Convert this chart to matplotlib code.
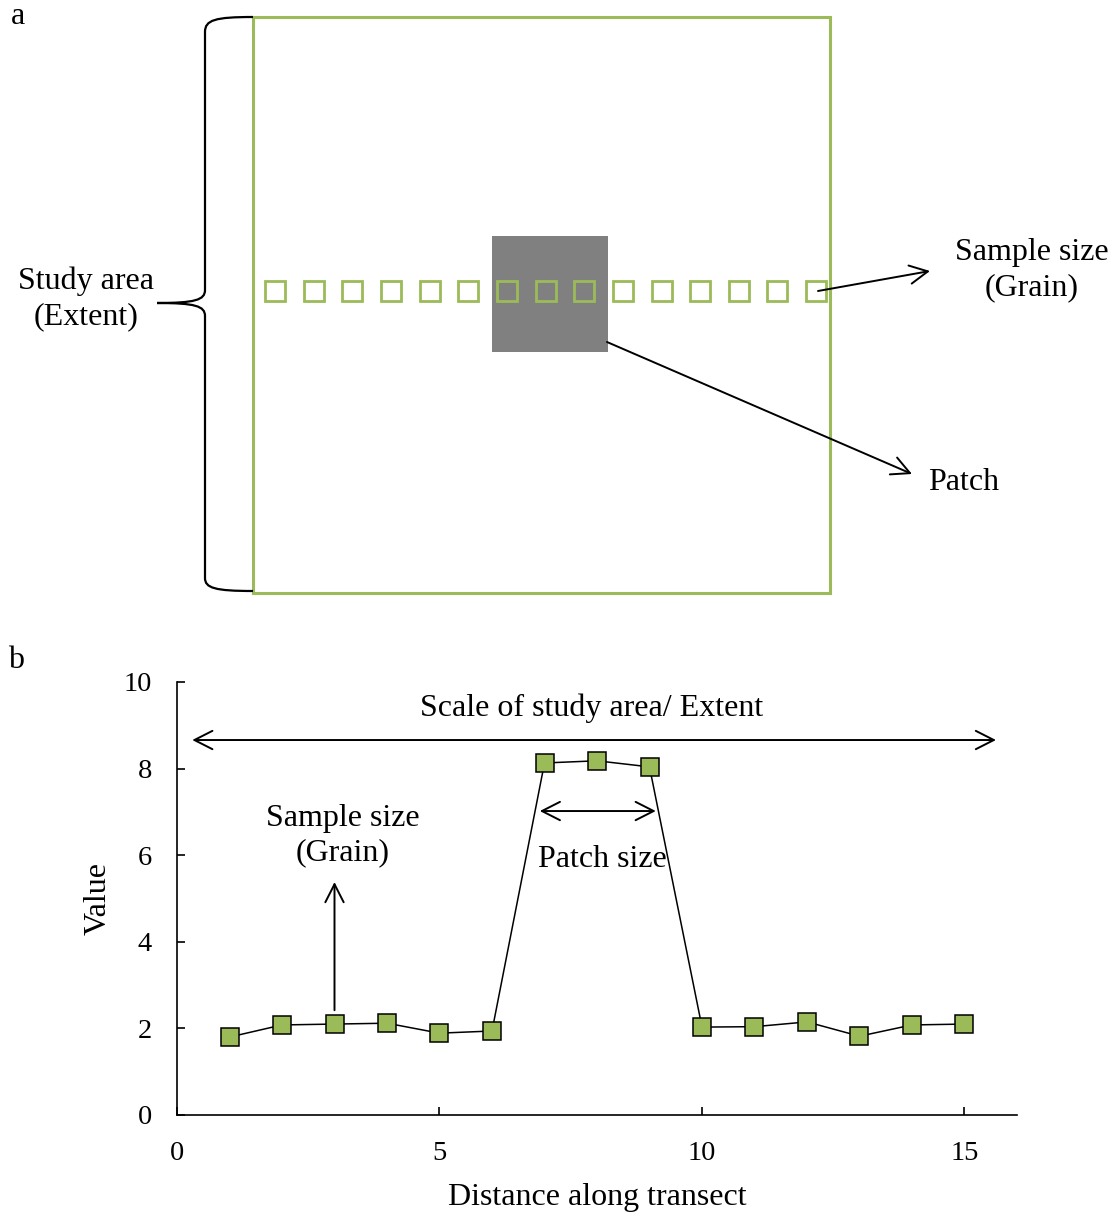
import matplotlib
matplotlib.use("Agg")
import matplotlib.pyplot as plt
from matplotlib.patches import Rectangle, FancyArrowPatch, PathPatch
from matplotlib.path import Path
import numpy as np

plt.rcParams['font.family'] = ['Liberation Serif', 'DejaVu Serif']

# ---- data ----
distance = [1, 2, 3, 4, 5, 6, 7, 8, 9, 10, 11, 12, 13, 14, 15]
values = [1.80, 2.08, 2.10, 2.12, 1.89, 1.94, 8.13, 8.18, 8.04, 2.03, 2.04, 2.15, 1.82, 2.08, 2.10]
patch_samples = [7, 8, 9]
x_ticks = [0, 5, 10, 15]
y_ticks = [0, 2, 4, 6, 8, 10]

GREEN = '#9BBB59'
FS = 23
W, H = 1117, 1213
fig = plt.figure(figsize=(W / 100, H / 100), dpi=100)

# ---------- panel a (pixel-coordinate overlay) ----------
ov = fig.add_axes([0, 0, 1, 1])
ov.set_xlim(0, W)
ov.set_ylim(H, 0)
ov.axis('off')

ov.add_patch(Rectangle((253, 17), 577, 576, fill=False, ec=GREEN, lw=2.2, zorder=2))
first_x, step, sq = 275, 38.65, 20
px0 = first_x + (patch_samples[0] - 1) * step - 15
px1 = first_x + (patch_samples[-1] - 1) * step + 24
ov.add_patch(Rectangle((px0, 236), px1 - px0, 116, fc='#808080', ec='none', zorder=1))
for i in range(len(distance)):
    cx = first_x + i * step
    ov.add_patch(Rectangle((cx - sq / 2, 291 - sq / 2), sq, sq, fill=False,
                           ec=GREEN, lw=2.0, zorder=3))

verts = [(253, 17), (215, 17), (205, 20), (205, 32),
         (205, 290),
         (205, 300), (195, 303), (157, 303),
         (195, 303), (205, 306), (205, 316),
         (205, 578),
         (205, 588), (215, 591), (253, 591)]
codes = [Path.MOVETO, Path.CURVE4, Path.CURVE4, Path.CURVE4,
         Path.LINETO,
         Path.CURVE4, Path.CURVE4, Path.CURVE4,
         Path.CURVE4, Path.CURVE4, Path.CURVE4,
         Path.LINETO,
         Path.CURVE4, Path.CURVE4, Path.CURVE4]
ov.add_patch(PathPatch(Path(verts, codes), fill=False, ec='black', lw=1.6, zorder=3))

ov.text(86, 299, 'Study area\n(Extent)', ha='center', va='center', fontsize=FS,
        linespacing=1.25)

arr_kw = dict(arrowstyle='->,head_length=0.65,head_width=0.33', mutation_scale=20,
              color='black', lw=1.4, shrinkA=0, shrinkB=0, zorder=4)
ov.add_patch(FancyArrowPatch((818, 291), (930, 271), **arr_kw))
ov.add_patch(FancyArrowPatch((607, 342), (912, 474), **arr_kw))
ov.text(1032, 270, 'Sample size\n(Grain)', ha='center', va='center', fontsize=FS,
        linespacing=1.25)
ov.text(928, 482, 'Patch', ha='left', va='center', fontsize=FS)

ov.text(11, 17, 'a', ha='left', va='center', fontsize=FS)
ov.text(8, 660, 'b', ha='left', va='center', fontsize=FS)

# ---------- panel b ----------
ax = fig.add_axes([177 / W, 1 - 1115 / H, (1017 - 177) / W, (1115 - 682) / H])
ax.set_xlim(0, 16)
ax.set_ylim(0, 10)
ax.plot(distance, values, color='black', lw=1.1, marker='s', markersize=13.5,
        markerfacecolor=GREEN, markeredgecolor='black', markeredgewidth=1.1,
        clip_on=False, zorder=3)
for s in ['top', 'right']:
    ax.spines[s].set_visible(False)
for s in ['left', 'bottom']:
    ax.spines[s].set_linewidth(1.2)
ax.set_xticks(x_ticks)
ax.set_yticks(y_ticks)
ax.tick_params(direction='in', length=6, width=1.2, labelsize=20.5)
ax.tick_params(axis='x', pad=19)
ax.tick_params(axis='y', pad=18)
ax.set_xlabel('Distance along transect', fontsize=FS)
ax.set_ylabel('Value', fontsize=FS)
ax.xaxis.set_label_coords(0.5, -0.158)
ax.yaxis.set_label_coords(-0.077, 0.5)

barr = dict(arrowstyle='<->,head_length=0.65,head_width=0.33', mutation_scale=20,
            color='black', lw=1.4, shrinkA=0, shrinkB=0)
ax.annotate('', xy=(0.29, 8.66), xytext=(15.6, 8.66), arrowprops=barr)
ax.text(7.9, 9.40, 'Scale of study area/ Extent', ha='center', va='center', fontsize=FS)
ax.annotate('', xy=(6.91, 7.02), xytext=(9.12, 7.02), arrowprops=barr)
ax.text(8.11, 5.90, 'Patch size', ha='center', va='center', fontsize=FS)
uarr = dict(arrowstyle='->,head_length=0.65,head_width=0.33', mutation_scale=20,
            color='black', lw=1.4, shrinkA=0, shrinkB=0)
ax.annotate('', xy=(3.0, 5.38), xytext=(3.0, 2.42), arrowprops=uarr)
ax.text(3.16, 6.45, 'Sample size\n(Grain)', ha='center', va='center', fontsize=FS,
        linespacing=1.25)

fig.savefig('out.png', dpi=100)
